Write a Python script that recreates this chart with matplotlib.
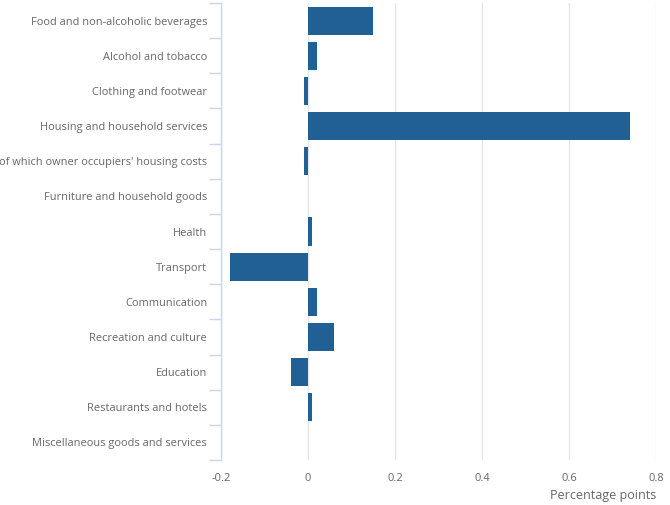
import matplotlib
matplotlib.use("Agg")
import matplotlib.pyplot as plt
import numpy as np

plt.rcParams['font.family'] = ['Open Sans', 'DejaVu Sans']

categories = ["Food and non-alcoholic beverages", "Alcohol and tobacco", "Clothing and footwear",
              "Housing and household services", "of which owner occupiers' housing costs",
              "Furniture and household goods", "Health", "Transport", "Communication",
              "Recreation and culture", "Education", "Restaurants and hotels",
              "Miscellaneous goods and services"]
values = [0.15, 0.02, -0.01, 0.74, -0.01, 0.0, 0.01, -0.18, 0.02, 0.06, -0.04, 0.01, 0.0]
xticks = [-0.2, 0, 0.2, 0.4, 0.6, 0.8]
xticklabels = ["-0.2", "0", "0.2", "0.4", "0.6", "0.8"]

fig = plt.figure(figsize=(6.7, 5.05), dpi=100)
ax = fig.add_axes([0.33, 0.089, 0.649, 0.905])

n = len(categories)
y = np.arange(n)
ax.barh(y, values, height=0.8, color="#206095", zorder=3)

ax.set_ylim(n - 0.5, -0.5)
ax.set_xlim(-0.2, 0.8)
ax.set_xticks(xticks)
ax.set_xticklabels(xticklabels)
ax.set_yticks(y)
ax.set_yticklabels(categories)
ax.set_yticks(np.arange(n + 1) - 0.5, minor=True)

ax.grid(axis="x", color="#e6e6e6", linewidth=1, zorder=0)
for s in ["top", "right", "bottom"]:
    ax.spines[s].set_visible(False)
ax.spines["left"].set_color("#ccd6eb")
ax.spines["left"].set_linewidth(1)

ax.tick_params(axis="y", which="major", length=0, pad=10, labelsize=7.9, labelcolor="#666666")
ax.tick_params(axis="y", which="minor", length=9, color="#ccd6eb", width=1)
ax.tick_params(axis="x", length=0, pad=9, labelsize=8, labelcolor="#666666")

fig.text(0.979, 0.005, "Percentage points", ha="right", va="bottom", fontsize=9, color="#666666")

fig.savefig("out.png")
